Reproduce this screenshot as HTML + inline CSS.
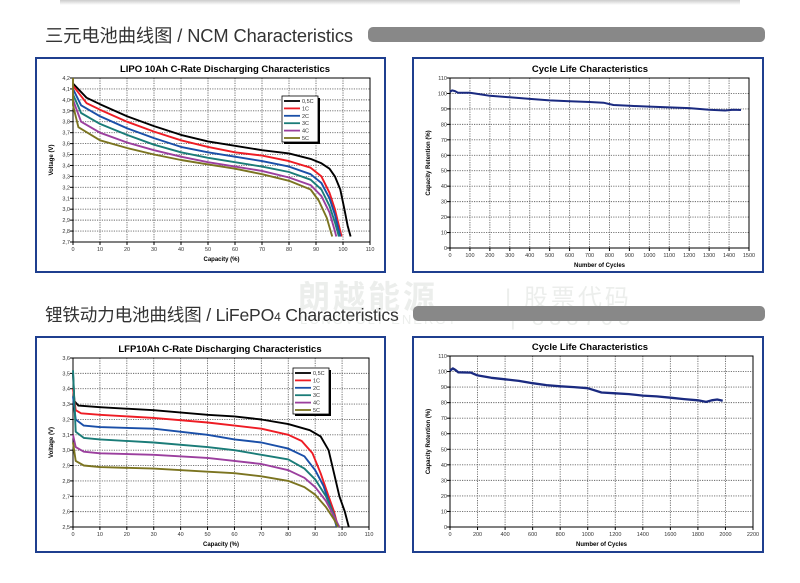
<!DOCTYPE html>
<html><head><meta charset="utf-8">
<style>
body{margin:0;background:#fff;width:800px;height:583px;overflow:hidden;position:relative;font-family:"Liberation Sans","Noto Sans CJK SC",sans-serif}
.hd{position:absolute;left:45px;font-size:18.3px;color:#333;white-space:nowrap;letter-spacing:-0.1px}
.bar{position:absolute;background:#888;border-radius:5px;height:15px}
.panel{position:absolute;border:2px solid #1f3f8f;background:#fff;box-sizing:border-box}
svg{position:absolute;left:0;top:0}
.wm{position:absolute;color:#eceeec;white-space:nowrap}
</style></head><body>
<div style="position:absolute;left:60px;top:0;width:680px;height:5px;background:linear-gradient(#ccc,#fff)"></div>
<div class="wm" style="left:298px;top:272px;font-size:32px;font-weight:bold;letter-spacing:3px">朗越能源</div>
<div class="wm" style="left:505px;top:278px;font-size:24px;letter-spacing:3px">| 股票代码</div>
<div class="wm" style="left:300px;top:312px;font-size:13px;letter-spacing:2px">LONGVOLT ENERGY</div>
<div class="wm" style="left:510px;top:305px;font-size:22px;letter-spacing:5px">| 838703</div>
<div class="hd" style="top:22px">三元电池曲线图 / NCM Characteristics</div>
<div class="bar" style="left:368px;top:27px;width:397px"></div>
<div class="hd" style="top:302px;font-size:17.6px;letter-spacing:-0.2px">锂铁动力电池曲线图 / LiFePO<span style="font-size:12px">4</span> Characteristics</div>
<div class="bar" style="left:413px;top:306px;width:352px"></div>
<div class="panel" style="left:35px;top:57px;width:351px;height:216px"></div>
<div class="panel" style="left:412px;top:57px;width:352px;height:216px"></div>
<div class="panel" style="left:35px;top:336px;width:351px;height:217px"></div>
<div class="panel" style="left:412px;top:336px;width:352px;height:217px"></div>
<svg id="s" width="800" height="583" xmlns="http://www.w3.org/2000/svg" font-family="Liberation Sans, sans-serif"></svg>
<script>
var s=document.getElementById('s'),o='';
function chart(c){
 var X=function(v){return c.x0+(v-c.xa)/(c.xb-c.xa)*(c.x1-c.x0)},Y=function(v){return c.y1-(v-c.ya)/(c.yb-c.ya)*(c.y1-c.y0)};
 var i,v;
 for(v=c.xa;v<=c.xb+1e-9;v+=c.xs){var x=X(v);o+='<line x1="'+x+'" y1="'+c.y0+'" x2="'+x+'" y2="'+c.y1+'" stroke="#666" stroke-width="0.9" stroke-dasharray="1.2,1.2"/>';o+='<line x1="'+x+'" y1="'+c.y1+'" x2="'+x+'" y2="'+(c.y1+3)+'" stroke="#000"/>';o+='<text x="'+x+'" y="'+(c.y1+9)+'" font-size="5.5" text-anchor="middle" fill="#333">'+(c.xf?c.xf(v):v)+'</text>';}
 for(v=c.ya;v<=c.yb+1e-9;v+=c.ys){var y=Y(v);o+='<line x1="'+c.x0+'" y1="'+y+'" x2="'+c.x1+'" y2="'+y+'" stroke="#666" stroke-width="0.9" stroke-dasharray="1.2,1.2"/>';o+='<line x1="'+(c.x0-3)+'" y1="'+y+'" x2="'+c.x0+'" y2="'+y+'" stroke="#000"/>';o+='<text x="'+(c.x0-3)+'" y="'+(y+2)+'" font-size="5.5" text-anchor="end" fill="#333">'+(c.yf?c.yf(v):v)+'</text>';}
 o+='<rect x="'+c.x0+'" y="'+c.y0+'" width="'+(c.x1-c.x0)+'" height="'+(c.y1-c.y0)+'" fill="none" stroke="#000" stroke-width="1"/>';
 c.series.forEach(function(sr){var p=sr.d.map(function(q){return X(q[0]).toFixed(1)+','+Y(q[1]).toFixed(1)}).join(' ');o+='<polyline points="'+p+'" fill="none" stroke="'+sr.c+'" stroke-width="'+(sr.w||1.9)+'" stroke-linejoin="round"/>';});
 o+='<text x="'+c.tx+'" y="'+(c.y0-6)+'" font-size="9.5" font-weight="bold" text-anchor="middle">'+c.t+'</text>';
 o+='<text x="'+((c.x0+c.x1)/2)+'" y="'+(c.y1+19)+'" font-size="6" font-weight="bold" text-anchor="middle">'+c.xl+'</text>';
 var lx=c.x0-20,ly=(c.y0+c.y1)/2;o+='<text x="'+lx+'" y="'+ly+'" font-size="6" font-weight="bold" text-anchor="middle" transform="rotate(-90 '+lx+' '+ly+')">'+c.yl+'</text>';
 if(c.leg){var L=c.leg;o+='<rect x="'+(L.x+2)+'" y="'+(L.y+2)+'" width="36" height="46" fill="#000"/><rect x="'+L.x+'" y="'+L.y+'" width="36" height="46" fill="#fff" stroke="#000" stroke-width="0.8"/>';
  c.series.forEach(function(sr,i){var yy=L.y+5+i*7.4;o+='<line x1="'+(L.x+2)+'" y1="'+yy+'" x2="'+(L.x+18)+'" y2="'+yy+'" stroke="'+sr.c+'" stroke-width="1.8"/><text x="'+(L.x+20)+'" y="'+(yy+2)+'" font-size="5.5" fill="#333">'+sr.n+'</text>';});}
}
var cols=['#000','#ee1c24','#1a4fa8','#1a7c78','#9b3f9e','#7b7420'],names=['0,5C','1C','2C','3C','4C','5C'];
var ncm=[
[[0,4.15],[5,4.02],[10,3.96],[20,3.85],[30,3.76],[40,3.68],[50,3.62],[60,3.58],[70,3.54],[80,3.51],[88,3.46],[92,3.42],[95,3.37],[97,3.3],[99,3.18],[100.5,3.0],[101.7,2.85],[102.8,2.75]],
[[0,4.13],[5,3.97],[10,3.91],[20,3.8],[30,3.71],[40,3.63],[50,3.57],[60,3.52],[70,3.49],[80,3.44],[88,3.38],[92,3.3],[95,3.15],[97,3.0],[98.5,2.85],[99.5,2.75]],
[[0,4.1],[3,3.95],[10,3.85],[20,3.74],[30,3.65],[40,3.57],[50,3.52],[60,3.48],[70,3.44],[80,3.39],[88,3.32],[92,3.24],[95,3.1],[97,2.95],[99,2.75]],
[[0,4.05],[3,3.88],[10,3.78],[20,3.68],[30,3.59],[40,3.52],[50,3.47],[60,3.43],[70,3.39],[80,3.34],[88,3.27],[92,3.18],[95,3.03],[97,2.88],[98.5,2.75]],
[[0,4.0],[3,3.8],[10,3.7],[20,3.61],[30,3.54],[40,3.48],[50,3.43],[60,3.39],[70,3.35],[80,3.29],[88,3.22],[92,3.12],[95,2.97],[97,2.8],[97.5,2.75]],
[[0,4.2],[0,3.95],[2,3.75],[10,3.63],[20,3.56],[30,3.5],[40,3.45],[50,3.41],[60,3.37],[70,3.32],[80,3.26],[88,3.18],[91,3.08],[94,2.92],[96,2.75]]];
var lfp=[
[[0,3.5],[0.5,3.32],[2,3.29],[10,3.28],[30,3.26],[50,3.23],[60,3.22],[70,3.2],[80,3.17],[88,3.13],[92,3.09],[95,3.0],[97,2.85],[99,2.7],[101,2.6],[102.5,2.5]],
[[0,3.4],[1,3.26],[3,3.24],[10,3.23],[30,3.21],[50,3.18],[60,3.16],[70,3.14],[80,3.1],[85,3.06],[89,2.98],[92,2.85],[95,2.7],[97,2.6],[98.5,2.5]],
[[0,3.35],[1,3.2],[4,3.16],[10,3.15],[30,3.14],[50,3.1],[60,3.07],[70,3.05],[80,3.01],[86,2.96],[90,2.87],[93,2.77],[96,2.62],[98,2.5]],
[[0,3.52],[1,3.12],[4,3.08],[10,3.07],[30,3.05],[50,3.02],[60,3.0],[70,2.97],[80,2.94],[86,2.88],[90,2.81],[94,2.7],[97,2.58],[98.5,2.5]],
[[0,3.1],[1,3.02],[4,2.99],[10,2.98],[30,2.97],[50,2.95],[60,2.93],[70,2.91],[80,2.87],[86,2.82],[90,2.76],[94,2.67],[97,2.57],[99,2.5]],
[[0,3.05],[1,2.93],[4,2.9],[10,2.89],[30,2.88],[50,2.86],[60,2.85],[70,2.83],[80,2.8],[86,2.76],[90,2.71],[94,2.63],[97,2.55],[98.5,2.5]]];
function ser(a){return a.map(function(d,i){return{d:d,c:cols[i],n:names[i]}})}
var cf=function(v){return v.toFixed(1).replace('.',',')};
chart({x0:73,x1:370,y0:78,y1:242,xa:0,xb:110,xs:10,ya:2.7,yb:4.2,ys:0.1,yf:cf,t:'LIPO 10Ah  C-Rate Discharging Characteristics',tx:225,xl:'Capacity (%)',yl:'Voltage (V)',series:ser(ncm),leg:{x:282,y:96}});
chart({x0:73,x1:369,y0:358,y1:527,xa:0,xb:110,xs:10,ya:2.5,yb:3.6,ys:0.1,yf:cf,t:'LFP10Ah  C-Rate Discharging Characteristics',tx:220,xl:'Capacity (%)',yl:'Voltage (V)',series:ser(lfp),leg:{x:293,y:368}});
chart({x0:450,x1:749,y0:78,y1:248,xa:0,xb:1500,xs:100,ya:0,yb:110,ys:10,t:'Cycle Life Characteristics',tx:590,xl:'Number of Cycles',yl:'Capacity Retention (%)',series:[{c:'#1a2a80',w:2,d:[[0,101],[10,102],[25,101.5],[40,100.5],[100,100.5],[150,99.5],[200,98.5],[300,97.5],[400,96.5],[500,95.5],[600,95],[700,94.5],[770,94],[820,92.5],[900,92],[1000,91.5],[1100,91],[1200,90.5],[1300,89.5],[1380,89],[1420,89.5],[1460,89.3]]}]});
chart({x0:450,x1:753,y0:356,y1:527,xa:0,xb:2200,xs:200,ya:0,yb:110,ys:10,t:'Cycle Life Characteristics',tx:590,xl:'Number of Cycles',yl:'Capacity Retention (%)',series:[{c:'#1a2a80',w:2.3,d:[[0,100.5],[20,102],[40,101],[60,99.5],[150,99.3],[200,97.5],[300,96],[400,95],[500,94],[600,92.5],[700,91.3],[800,90.5],[900,90],[1000,89.3],[1100,86.5],[1200,86],[1300,85.5],[1400,84.5],[1500,84],[1600,83.2],[1700,82.3],[1800,81.5],[1860,80.5],[1900,81.5],[1940,82],[1980,81.2]]}]});
s.innerHTML=o;
</script>
</body></html>
